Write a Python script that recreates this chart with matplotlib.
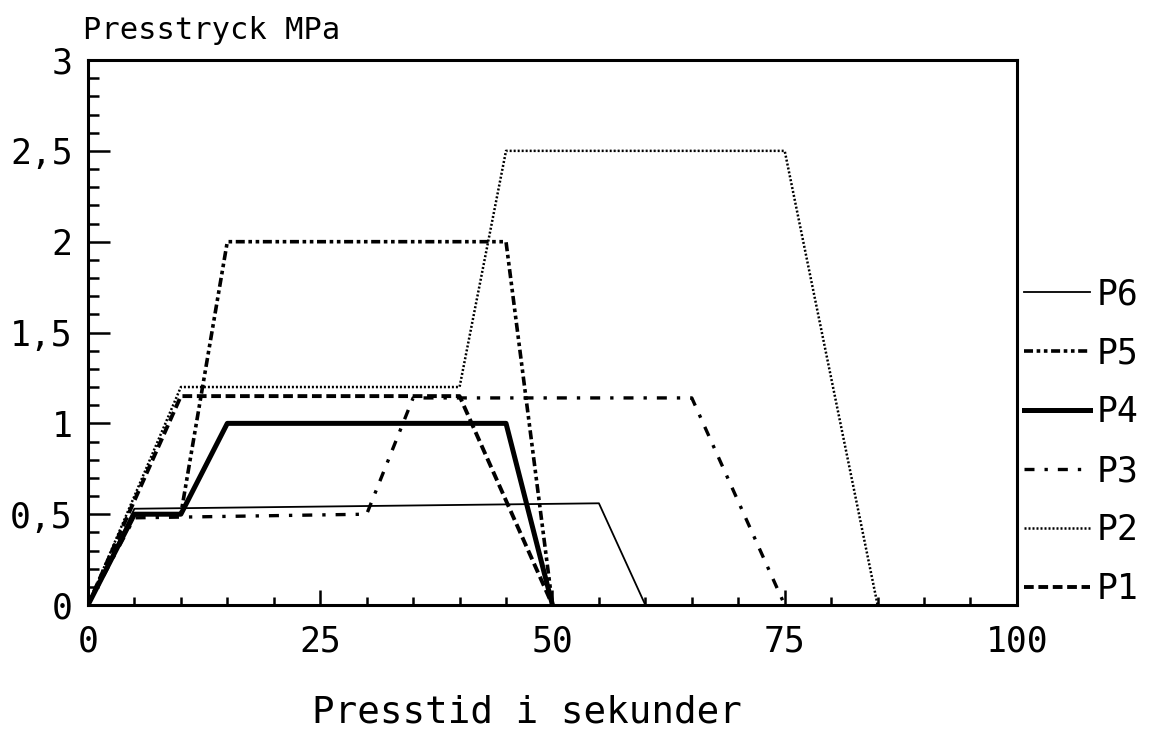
import numpy as np
import matplotlib
import matplotlib.pyplot as plt
from matplotlib.ticker import MultipleLocator, FuncFormatter

matplotlib.use('Agg')

# Pressure curves, time in s and pressure in MPa
t_p6 = [0, 5, 55, 60]
p_p6 = [0, 0.53, 0.56, 0]
t_p5 = [0, 5, 10, 15, 45, 50]
p_p5 = [0, 0.5, 0.5, 2.0, 2.0, 0]
t_p4 = [0, 5, 10, 15, 45, 50]
p_p4 = [0, 0.5, 0.5, 1.0, 1.0, 0]
t_p3 = [0, 5, 30, 35, 65, 75]
p_p3 = [0, 0.48, 0.5, 1.14, 1.14, 0]
t_p2 = [0, 10, 40, 45, 75, 85]
p_p2 = [0, 1.2, 1.2, 2.5, 2.5, 0]
t_p1 = [0, 10, 40, 50]
p_p1 = [0, 1.15, 1.15, 0]

x_ticks = [0, 25, 50, 75, 100]
y_ticks = [0, 0.5, 1, 1.5, 2, 2.5, 3]

# plotter-like fixed width lettering
plt.rcParams['font.family'] = ['DejaVu Sans Mono']

fig = plt.figure(figsize=(11.5, 7.42), dpi=100)
ax = fig.add_axes([0.0765, 0.1846, 0.8078, 0.7345])

ax.plot(t_p6, p_p6, color='black', lw=1.3, label='P6')
ax.plot(t_p5, p_p5, color='black', lw=2.6, dashes=(2.5, 1, 1, 1, 1, 1), label='P5')
ax.plot(t_p4, p_p4, color='black', lw=3.6, label='P4')
ax.plot(t_p3, p_p3, color='black', lw=2.4, dashes=(3, 3, 1, 3), label='P3')
ax.plot(t_p2, p_p2, color='black', lw=1.8, dashes=(0.8, 0.8), label='P2')
ax.plot(t_p1, p_p1, color='black', lw=2.8, dashes=(2.5, 1.2), label='P1')

ax.set_xlim(0, 100)
ax.set_ylim(0, 3)
ax.set_xticks(x_ticks)
ax.set_yticks(y_ticks)
ax.xaxis.set_minor_locator(MultipleLocator(5))
ax.yaxis.set_minor_locator(MultipleLocator(0.1))
ax.yaxis.set_major_formatter(FuncFormatter(lambda v, p: ('%g' % v).replace('.', ',')))

ax.tick_params(axis='both', which='both', direction='in', width=1.8, labelsize=25)
ax.tick_params(axis='y', which='major', length=16, pad=11)
ax.tick_params(axis='y', which='minor', length=8)
ax.tick_params(axis='x', which='major', length=11, pad=14)
ax.tick_params(axis='x', which='minor', length=6)
for s in ax.spines.values():
    s.set_linewidth(2.2)

fig.text(0.072, 0.947, 'Presstryck MPa', fontsize=22, ha='left', va='baseline')
fig.text(0.458, 0.04, 'Presstid i sekunder', fontsize=27, ha='center', va='center')

ax.legend(loc='lower left', bbox_to_anchor=(1.0, -0.015), frameon=False,
          fontsize=25, handlelength=1.9, handletextpad=0.2, labelspacing=0.72,
          borderaxespad=0, borderpad=0.2)

fig.savefig('out.png', dpi=100)
